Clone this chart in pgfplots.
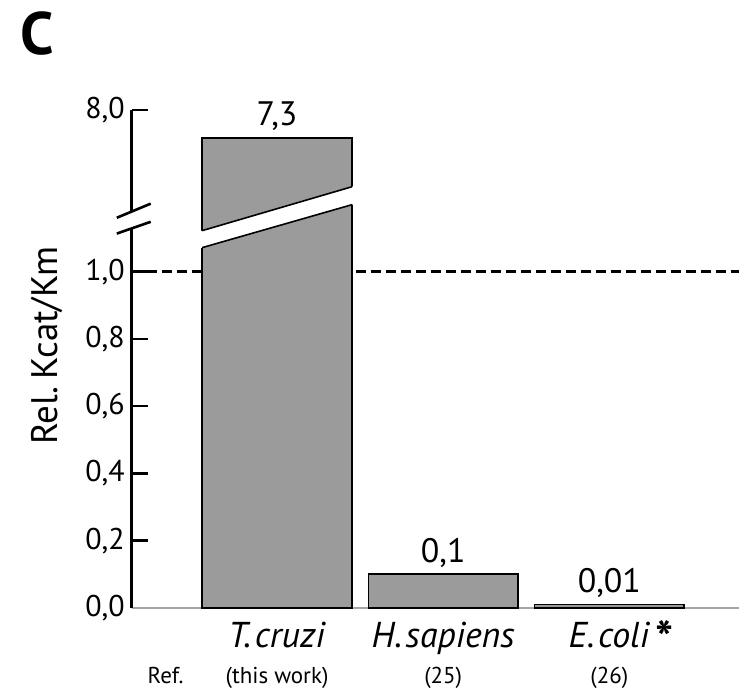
\documentclass[border=0pt]{standalone}
\usepackage{fontspec}
\setmainfont{PT Sans}
\usepackage{pgfplots}
\usepackage{pgfplotstable}
\pgfplotsset{compat=1.18}
\definecolor{barfill}{RGB}{155,155,155}

% values; the axis is broken above 1.0 (top part compressed)
\pgfplotstableread{
x  y     label
0  7.3   7,3
1  0.1   0,1
2  0.01  0,01
}\kcatdata

\begin{document}
\begin{tikzpicture}
\begin{axis}[
  scale only axis,
  width=304pt, height=249.5pt,
  xmin=-0.874, xmax=2.778,
  ymin=0, ymax=8,
  y coord trafo/.code={\pgfmathparse{ifthenelse(#1>2,1.481-(8-#1)*0.119,#1)}},
  clip=false,
  axis line style={draw=none},
  ybar, bar width=75pt,
  ytick={0,0.2,0.4,0.6,0.8,1.0,8},
  yticklabels={{0,0},{0,2},{0,4},{0,6},{0,8},{1,0},{8,0}},
  ytick pos=left, tick align=inside,
  major tick length=8pt,
  y tick style={line width=1.3pt, black},
  yticklabel style={font=\fontsize{15}{17}\selectfont},
  xtick={0,1,2},
  x tick style={draw=none},
  xticklabels={\textit{T.\kern0.1em cruzi}, \textit{H.\kern0.1em sapiens}, \textit{E.\kern0.1em coli}\rlap{\kern0.15em\smash{\raisebox{-4pt}{\bfseries\fontsize{24}{24}\selectfont *}}}},
  xticklabel style={anchor=base, yshift=-20pt, font=\fontsize{18}{20}\selectfont},
  ylabel={Rel.\kern0.2em Kcat/Km},
  ylabel style={at={(axis description cs:-0.14,0.527)}, anchor=center, font=\fontsize{18.5}{20}\selectfont},
  point meta=explicit symbolic,
  nodes near coords,
  every node near coord/.append style={anchor=base, yshift=6pt, font=\fontsize{17}{19}\selectfont, black},
]
% x axis line and reference line
\draw[black!35, line width=1pt] (axis cs:-0.874,0) -- (axis cs:2.778,0);
\draw[line width=1.3pt, dash pattern=on 5pt off 2.5pt] (axis cs:-0.874,1) -- (axis cs:2.778,1);

\addplot[fill=barfill, draw=black, line width=0.8pt] table[x=x, y=y, meta=label] {\kcatdata};

% break in the T. cruzi bar
\fill[white] (axis cs:-0.47,1.068) -- (axis cs:0.47,1.2016) -- (axis cs:0.47,1.255) -- (axis cs:-0.47,1.119) -- cycle;
\draw[line width=0.8pt] (axis cs:-0.4505,1.1217) -- (axis cs:0.4505,1.2522);
\draw[line width=0.8pt] (axis cs:-0.4505,1.0712) -- (axis cs:0.4505,1.1988);

% y axis with break marks
\draw[line width=1.3pt] (axis cs:-0.874,0) -- (axis cs:-0.874,1.128);
\draw[line width=1.3pt] (axis cs:-0.874,1.178) -- (axis cs:-0.874,8);
\draw[line width=1.3pt] (axis cs:-0.964,1.160) -- (axis cs:-0.760,1.202);
\draw[line width=1.3pt] (axis cs:-0.964,1.113) -- (axis cs:-0.760,1.148);

% reference row
\node[anchor=base, yshift=-38pt, font=\fontsize{11.5}{13}\selectfont] at (axis cs:-0.67,0) {Ref.};
\node[anchor=base, yshift=-38pt, font=\fontsize{11.5}{13}\selectfont] at (axis cs:0,0) {(this work)};
\node[anchor=base, yshift=-38pt, font=\fontsize{11.5}{13}\selectfont] at (axis cs:1,0) {(25)};
\node[anchor=base, yshift=-38pt, font=\fontsize{11.5}{13}\selectfont] at (axis cs:2,0) {(26)};
\end{axis}
\node[anchor=base west, inner sep=0pt, font=\bfseries\fontsize{30}{32}\selectfont] at ([shift={(-56pt,277pt)}]current axis.south west) {C};
\path ([shift={(-66pt,-41pt)}]current axis.south west) rectangle ([shift={(0pt,55pt)}]current axis.north east);
\end{tikzpicture}
\end{document}
